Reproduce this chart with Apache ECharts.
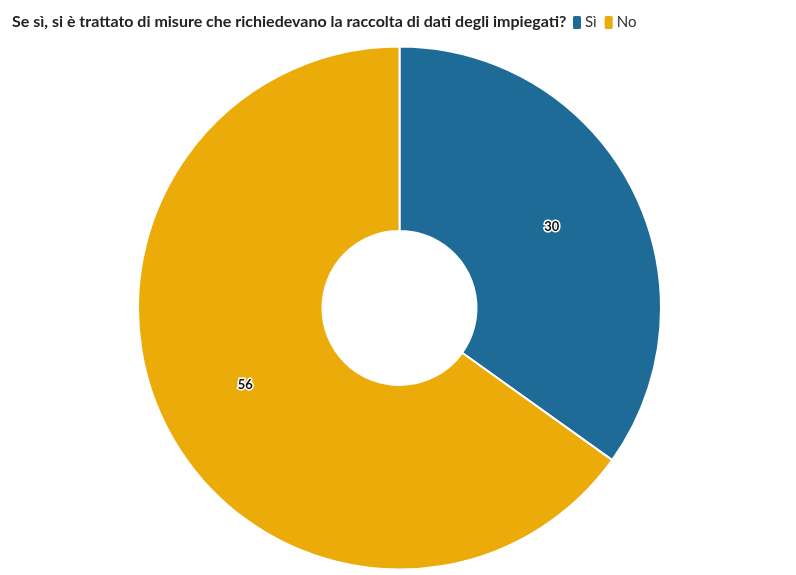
<!DOCTYPE html>
<html><head><meta charset="utf-8">
<script src="https://cdn.jsdelivr.net/npm/echarts@6/dist/echarts.min.js"></script>
<style>html,body{margin:0;padding:0;background:#fff}#c{width:796px;height:575px}</style>
</head><body><div id="c"></div>
<script>
const titleText = 'Se sì, si è trattato di misure che richiedevano la raccolta di dati degli impiegati?';
const categories = ['Sì', 'No'];
const values = [30, 56];
const colors = ['#1f6b98', '#ebab08'];

const chart = echarts.init(document.getElementById('c'));
chart.setOption({
  animation: false,
  title: {
    text: titleText, left: 12, top: 14, padding: 0,
    textStyle: {fontFamily: 'Lato', fontWeight: 'bold', fontSize: 16, color: '#222'}
  },
  legend: {
    left: 571, top: 14, padding: 0, itemWidth: 10, itemHeight: 15, itemGap: 6,
    icon: 'roundRect',
    textStyle: {fontFamily: 'Lato', fontSize: 15, color: '#333', padding: [0,0,0,-2]},
    data: categories
  },
  series: [{
    type: 'pie',
    center: [399.5, 308],
    radius: [77, 261.5],
    startAngle: 90,
    clockwise: true,
    color: colors,
    itemStyle: {borderColor: '#fff', borderWidth: 2},
    label: {
      show: true, position: 'inside', formatter: '{c}',
      fontFamily: 'Lato', fontWeight: 'bold', fontSize: 13, color: '#111',
      textBorderColor: '#fff', textBorderWidth: 3, offset: [-1, -2]
    },
    labelLine: {show: false},
    data: categories.map((n, i) => ({name: n, value: values[i]}))
  }]
});
</script></body></html>
